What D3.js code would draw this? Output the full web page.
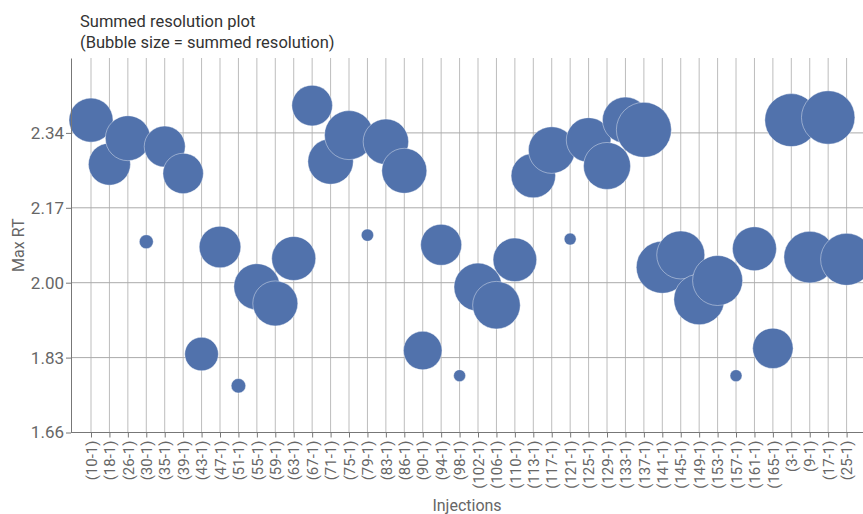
<!DOCTYPE html>
<html>
<head>
<meta charset="utf-8">
<script src="https://cdn.jsdelivr.net/npm/d3@7"></script>
<style>
  body { margin: 0; background: #fff; }
  svg text { font-family: Roboto, "Liberation Sans", sans-serif; }
</style>
</head>
<body>
<svg id="chart" width="863" height="514"></svg>
<script>
// injections on the x axis
const injections = ["(10-1)", "(18-1)", "(26-1)", "(30-1)", "(35-1)", "(39-1)", "(43-1)", "(47-1)",
    "(51-1)", "(55-1)", "(59-1)", "(63-1)", "(67-1)", "(71-1)", "(75-1)", "(79-1)", "(83-1)", "(86-1)",
    "(90-1)", "(94-1)", "(98-1)", "(102-1)", "(106-1)", "(110-1)", "(113-1)", "(117-1)", "(121-1)",
    "(125-1)", "(129-1)", "(133-1)", "(137-1)", "(141-1)", "(145-1)", "(149-1)", "(153-1)", "(157-1)",
    "(161-1)", "(165-1)", "(3-1)", "(9-1)", "(17-1)", "(25-1)"];

// max retention time per injection
const maxRT = [2.369, 2.269, 2.328, 2.093, 2.309, 2.248, 1.838, 2.081,
    1.766, 1.991, 1.953, 2.055, 2.402, 2.275, 2.335, 2.108, 2.320, 2.254,
    1.846, 2.086, 1.789, 1.990, 1.949, 2.052, 2.243, 2.301, 2.099,
    2.324, 2.265, 2.369, 2.347, 2.035, 2.063, 1.962, 2.005, 1.789,
    2.077, 1.851, 2.369, 2.058, 2.375, 2.053];

// summed resolution per injection (bubble area)
const summedRes = [48.4, 44.1, 50.6, 4.9, 42.0, 40.8, 28.2, 43.3,
    5.3, 52.9, 50.6, 48.4, 41.2, 51.5, 60.0, 3.8, 51.5, 50.6,
    37.2, 42.0, 3.6, 57.6, 56.6, 47.5, 49.3, 54.3, 3.6,
    49.7, 55.2, 52.9, 75.6, 67.6, 57.6, 64.0, 62.5, 3.6,
    48.4, 40.8, 70.2, 66.6, 71.3, 67.6];

const yTicks = [1.66, 1.83, 2.00, 2.17, 2.34];

const svg = d3.select("#chart");
const plotLeft = 71, plotRight = 863, plotTop = 58, plotBottom = 432.5;

const x = d3.scalePoint().domain(injections).range([91, 846.6]);
const y = d3.scaleLinear().domain([1.66, 2.51]).range([plotBottom, plotTop]);
const r = d3.scaleSqrt().domain([0, 75.6]).range([0, 27.5]);

// vertical grid
svg.append("g").selectAll("line")
    .data(injections)
    .join("line")
    .attr("x1", d => x(d)).attr("x2", d => x(d))
    .attr("y1", plotTop).attr("y2", plotBottom)
    .attr("stroke", "#bdbdbd").attr("stroke-width", 1);

// horizontal grid
svg.append("g").selectAll("line")
    .data(yTicks.slice(1))
    .join("line")
    .attr("x1", plotLeft).attr("x2", plotRight)
    .attr("y1", d => y(d)).attr("y2", d => y(d))
    .attr("stroke", "#aaa").attr("stroke-width", 1);

// bubbles
const data = injections.map((k, i) => ({ k, rt: maxRT[i], res: summedRes[i] }));
svg.append("g").selectAll("circle")
    .data(data)
    .join("circle")
    .attr("cx", d => x(d.k))
    .attr("cy", d => y(d.rt))
    .attr("r", d => r(d.res))
    .attr("fill", "#5172ac")
    .attr("stroke", "#fff")
    .attr("stroke-opacity", 0.5)
    .attr("stroke-width", 0.8);

// y axis
const yAxis = svg.append("g")
    .attr("transform", `translate(${plotLeft},0)`)
    .call(d3.axisLeft(y).tickValues(yTicks).tickFormat(d3.format(".2f")).tickSize(5).tickSizeOuter(0));
yAxis.select(".domain").attr("stroke", "#777");
yAxis.selectAll(".tick line").attr("stroke", "#777");
yAxis.selectAll("text").attr("fill", "#666").attr("font-size", 17).attr("x", -7);

// x axis
const xAxis = svg.append("g")
    .attr("transform", `translate(0,${plotBottom})`)
    .call(d3.axisBottom(x).tickSize(5).tickSizeOuter(0));
xAxis.select(".domain").attr("d", `M${plotLeft},0H${plotRight}`).attr("stroke", "#777");
xAxis.selectAll(".tick line").attr("stroke", "#777");
xAxis.selectAll("text")
    .attr("fill", "#666").attr("font-size", 15)
    .attr("text-anchor", "end")
    .attr("transform", "rotate(-90)")
    .attr("x", -8).attr("y", 0).attr("dy", "0.35em");

// titles
svg.append("text").attr("x", 80).attr("y", 27)
    .attr("font-size", 16.5).attr("fill", "#333").text("Summed resolution plot");
svg.append("text").attr("x", 80).attr("y", 48)
    .attr("font-size", 16.5).attr("fill", "#333").text("(Bubble size = summed resolution)");

svg.append("text")
    .attr("transform", `translate(24,${(plotTop + plotBottom) / 2}) rotate(-90)`)
    .attr("text-anchor", "middle")
    .attr("font-size", 16).attr("fill", "#666").text("Max RT");

svg.append("text").attr("x", (plotLeft + plotRight) / 2).attr("y", 511)
    .attr("text-anchor", "middle")
    .attr("font-size", 16).attr("fill", "#666").text("Injections");
</script>
</body>
</html>
